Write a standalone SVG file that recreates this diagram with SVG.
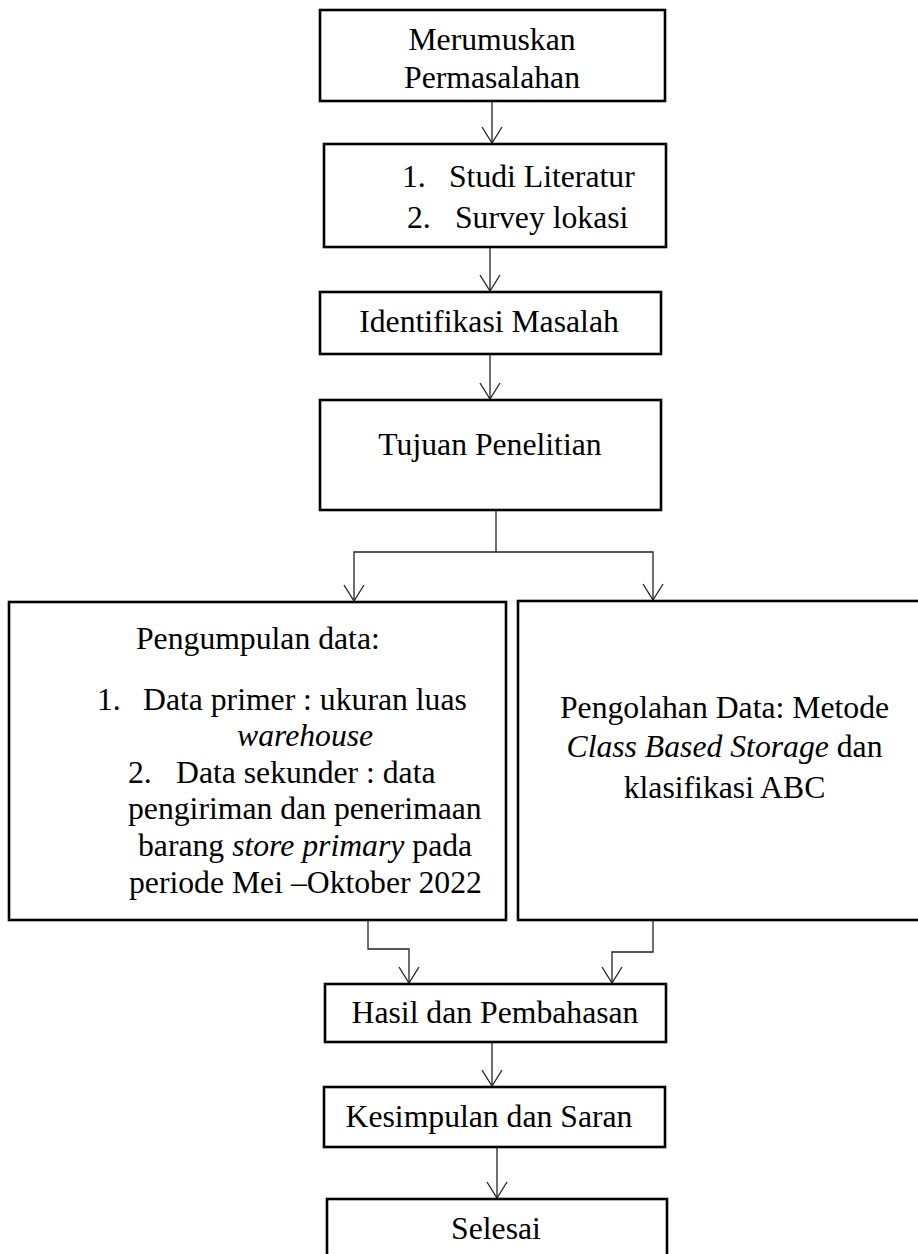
<svg xmlns="http://www.w3.org/2000/svg" width="918" height="1254" viewBox="0 0 918 1254">
<style>
.box{fill:#fff;stroke:#000;stroke-width:2.6}
.t{font-family:"Liberation Serif","Times New Roman",serif;font-size:31.7px;fill:#000}
.m{text-anchor:middle}
.i{font-style:italic}
.c{fill:none;stroke:#222;stroke-width:1.3}
</style>
<defs>
<marker id="ah" markerUnits="userSpaceOnUse" markerWidth="24" markerHeight="24" refX="0" refY="0" viewBox="-18 -12 20 24" orient="auto" overflow="visible">
<path d="M-16,-10 L0,0 L-16,10" fill="none" stroke="#222" stroke-width="1.3"/>
</marker>
</defs>
<rect width="918" height="1254" fill="#fff"/>
<g id="connectors">
<path class="c" d="M492,101 V143" marker-end="url(#ah)"/>
<path class="c" d="M490,247 V291" marker-end="url(#ah)"/>
<path class="c" d="M490,354 V399" marker-end="url(#ah)"/>
<path class="c" d="M496,510 V552 H354 V601" marker-end="url(#ah)"/>
<path class="c" d="M496,552 H653 V600" marker-end="url(#ah)"/>
<path class="c" d="M368,920 V949 H409 V983" marker-end="url(#ah)"/>
<path class="c" d="M653,920 V952 H612 V983" marker-end="url(#ah)"/>
<path class="c" d="M492,1042 V1086" marker-end="url(#ah)"/>
<path class="c" d="M497,1147 V1198" marker-end="url(#ah)"/>
</g>
<g id="n1">
<rect class="box" x="320" y="10" width="345" height="91"/>
<text class="t m" x="492" y="50">Merumuskan</text>
<text class="t m" x="492" y="88">Permasalahan</text>
</g>
<g id="n2">
<rect class="box" x="324" y="144" width="342" height="103"/>
<text class="t" y="187"><tspan x="402">1.</tspan><tspan x="449">Studi Literatur</tspan></text>
<text class="t" y="228"><tspan x="407">2.</tspan><tspan x="455">Survey lokasi</tspan></text>
</g>
<g id="n3">
<rect class="box" x="320" y="292" width="341" height="62"/>
<text class="t m" x="489" y="332">Identifikasi Masalah</text>
</g>
<g id="n4">
<rect class="box" x="320" y="400" width="341" height="110"/>
<text class="t m" x="490" y="455">Tujuan Penelitian</text>
</g>
<g id="n5">
<rect class="box" x="9" y="602" width="497" height="318"/>
<text class="t" x="136" y="649">Pengumpulan data:</text>
<text class="t" y="710"><tspan x="97">1.</tspan><tspan x="143">Data primer : ukuran luas</tspan></text>
<text class="t i" x="237" y="746">warehouse</text>
<text class="t" y="783"><tspan x="128">2.</tspan><tspan x="176">Data sekunder : data</tspan></text>
<text class="t" x="128" y="819">pengiriman dan penerimaan</text>
<text class="t" x="138" y="856">barang <tspan class="i">store primary</tspan> pada</text>
<text class="t" x="129" y="893">periode Mei –Oktober 2022</text>
</g>
<g id="n6">
<rect class="box" x="518" y="601" width="420" height="319"/>
<text class="t m" x="724.5" y="718">Pengolahan Data: Metode</text>
<text class="t m" x="724.5" y="757"><tspan class="i">Class Based Storage</tspan> dan</text>
<text class="t m" x="724.5" y="798">klasifikasi ABC</text>
</g>
<g id="n7">
<rect class="box" x="325" y="984" width="341" height="58"/>
<text class="t m" x="495" y="1023">Hasil dan Pembahasan</text>
</g>
<g id="n8">
<rect class="box" x="324" y="1087" width="341" height="60"/>
<text class="t m" x="489" y="1127">Kesimpulan dan Saran</text>
</g>
<g id="n9">
<rect class="box" x="327" y="1199" width="340" height="80"/>
<text class="t m" x="496" y="1239">Selesai</text>
</g>
</svg>
